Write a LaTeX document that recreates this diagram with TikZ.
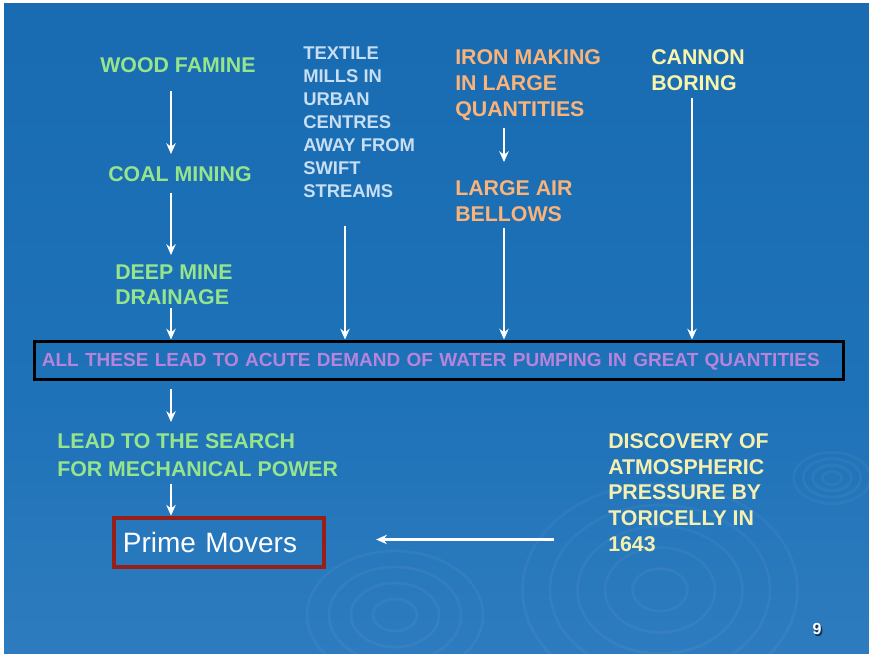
\documentclass[tikz,border=0pt]{standalone}
\usepackage{fontspec}
\setmainfont{Liberation Sans}
\usetikzlibrary{arrows.meta,calc}

\definecolor{bgtop}{RGB}{20,102,172}
\definecolor{bgmid}{RGB}{30,114,184}
\definecolor{bgbot}{RGB}{66,136,200}
\definecolor{txtgreen}{RGB}{150,228,140}
\definecolor{txtblue}{RGB}{200,222,242}
\definecolor{txtorange}{RGB}{250,180,122}
\definecolor{txtyellow}{RGB}{250,244,170}
\definecolor{txtcream}{RGB}{246,240,176}
\definecolor{txtpurple}{RGB}{182,132,220}
\definecolor{boxred}{RGB}{152,30,24}

\pgfdeclareverticalshading{slidebg}{100bp}{color(0bp)=(bgbot); color(45bp)=(bgmid); color(100bp)=(bgtop)}

\newcommand\setfs[2]{\fontsize{#1}{#2}\selectfont}

\begin{document}
\begin{tikzpicture}[x=0.75pt,y=-0.75pt,
  lbl/.style={anchor=north west,inner sep=0pt,align=left},
  big/.style={font=\setfs{16}{19.5}\bfseries},
  arr/.style={draw=white,line width=1.5pt,-{Stealth[length=8pt,width=7pt,inset=2.5pt]}},
  ripple/.style={draw=white,opacity=0.045,line width=2pt}
]
% page and slide background
\useasboundingbox (0,0) rectangle (869,654);
\fill[white] (0,0) rectangle (869,654);
\fill[shading=slidebg] (4,3) rectangle (869,654);

% faint water ripples in the lower part of the slide
\foreach \r in {8,16,24,32}
  \draw[ripple] (832,478) ellipse ({\r*1.2} and {\r*0.8});
\foreach \r in {20,40,60,80}
  \draw[ripple] (395,615) ellipse ({\r*1.1} and {\r*0.8});
\foreach \r in {25,50,75,100,125}
  \draw[ripple] (660,590) ellipse ({\r*1.1} and {\r*0.85});

% column positions of the vertical arrows
\coordinate (colA) at (171,0);
\coordinate (colB) at (345,0);
\coordinate (colC) at (504,0);
\coordinate (colD) at (692,0);

% causes
\node[lbl,big,text=txtgreen] (wood) at (100,57) {WOOD FAMINE};
\node[lbl,big,text=txtgreen] (coal) at (108,166) {COAL MINING};
\node[lbl,text=txtgreen,font=\setfs{16}{18.75}\bfseries] (deep) at (115,265) {DEEP MINE\\DRAINAGE};
\node[lbl,text=txtblue,font=\setfs{13.8}{17.25}\bfseries] (textile) at (303,47)
  {TEXTILE\\MILLS IN\\URBAN\\CENTRES\\AWAY FROM\\SWIFT\\STREAMS};
\node[lbl,big,text=txtorange] (iron) at (455,49) {IRON MAKING\\IN LARGE\\QUANTITIES};
\node[lbl,text=txtorange,font=\setfs{16}{20}\bfseries] (bellows) at (455,180) {LARGE AIR\\BELLOWS};
\node[lbl,big,text=txtyellow] (cannon) at (651,49) {CANNON\\BORING};

% common consequence
\node[anchor=west,draw=black,line width=2.25pt,inner xsep=5.5pt,inner ysep=0pt,
      minimum height=28.5pt,text width=596pt,align=left,text=txtpurple,
      text height=10.3pt,text depth=0pt,
      font=\setfs{14.25}{17}\bfseries] (demand) at (33,360)
  {ALL THESE LEAD TO ACUTE DEMAND OF WATER PUMPING IN GREAT QUANTITIES};

\node[lbl,text=txtgreen,font=\setfs{16}{21}\bfseries] (lead) at (57,433)
  {LEAD TO THE SEARCH\\FOR MECHANICAL POWER};

\node[anchor=west,draw=boxred,line width=3.5pt,inner xsep=6.75pt,inner ysep=0pt,
      minimum height=36.75pt,text width=144pt,align=left,text=white,
      text height=15pt,text depth=0pt,
      font=\setfs{21}{24}] (prime) at (111.5,542.5) {Prime Movers};

\node[lbl,text=txtcream,font=\setfs{16}{19.4}\bfseries] (discovery) at (608,433)
  {DISCOVERY OF\\ATMOSPHERIC\\PRESSURE BY\\TORICELLY IN\\1643};

% arrows
\draw[arr] ($(wood.south -| colA)+(0,18)$) -- ($(coal.north -| colA)+(0,-12)$);
\draw[arr] ($(coal.south -| colA)+(0,11)$) -- ($(deep.north -| colA)+(0,-10)$);
\draw[arr] ($(deep.south -| colA)+(0,3)$) -- (demand.north -| colA);
\draw[arr] ($(textile.south -| colB)+(0,28)$) -- (demand.north -| colB);
\draw[arr] ($(iron.south -| colC)+(0,7)$) -- ($(bellows.north -| colC)+(0,-18)$);
\draw[arr] ($(bellows.south -| colC)+(0,6)$) -- (demand.north -| colC);
\draw[arr] ($(cannon.south -| colD)+(0,7)$) -- (demand.north -| colD);
\draw[arr] ($(demand.south -| colA)+(0,8)$) -- ($(lead.north -| colA)+(0,-11)$);
\draw[arr] ($(lead.south -| colA)+(0,7)$) -- (prime.north -| colA);
\draw[arr,line width=2.2pt] ($(prime.east -| discovery.west)+(-54,-3)$) -- ($(prime.east)+(50,-3)$);

% slide number with its drop shadow
\node[inner sep=0pt,text=black,opacity=0.6,font=\setfs{12}{14}\bfseries] (numshadow) at (818.5,630.5) {9};
\node[inner sep=0pt,text=white,font=\setfs{12}{14}\bfseries] (num) at (817,629) {9};
\end{tikzpicture}
\end{document}
